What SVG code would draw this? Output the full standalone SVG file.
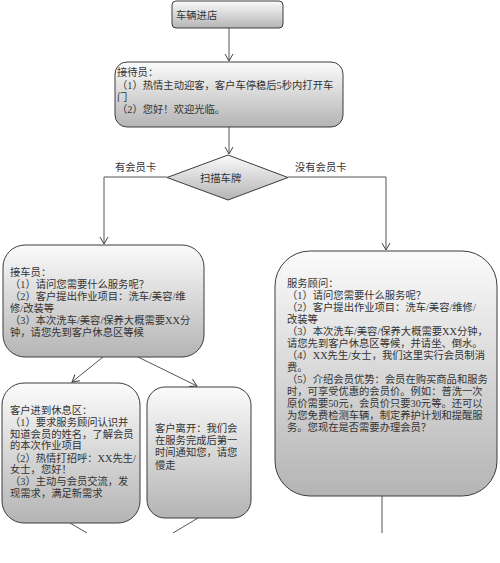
<svg xmlns="http://www.w3.org/2000/svg" width="500" height="563" viewBox="0 0 500 563">
<style>
.box{fill:url(#g);stroke:#3c3c3c;stroke-width:1}
.t{font-family:"Liberation Serif","Noto Sans CJK SC",serif;font-size:10.3px;fill:#333}
.c{fill:none;stroke:#555;stroke-width:1}
</style>
<defs>
<linearGradient id="g" x1="0" y1="0" x2="0" y2="1">
<stop offset="0" stop-color="#fbfbfb"/>
<stop offset="1" stop-color="#b4b4b4"/>
</linearGradient>
<marker id="a" markerWidth="10" markerHeight="10" refX="8" refY="5" orient="auto" markerUnits="userSpaceOnUse">
<path d="M1,1 L8,5 L1,9" fill="none" stroke="#444" stroke-width="1"/>
</marker>
</defs>
<rect width="500" height="563" fill="#fff"/>
<g id="connectors">
<path class="c" d="M229,28 V61" marker-end="url(#a)"/>
<path class="c" d="M229,127 V154" marker-end="url(#a)"/>
<path class="c" d="M167,177 H104 V244" marker-end="url(#a)"/>
<path class="c" d="M288,177 H386 V250" marker-end="url(#a)"/>
<path class="c" d="M103,357 L72,382" marker-end="url(#a)"/>
<path class="c" d="M138,357 L197,386" marker-end="url(#a)"/>
<path class="c" d="M70,523 L87,533"/>
<path class="c" d="M198,518 L173,533"/>
<path class="c" d="M382,496 V533"/>
<text class="t" x="115" y="171">有会员卡</text>
<text class="t" x="295" y="171">没有会员卡</text>
</g>
<g id="n1">
<rect class="box" x="172" y="1" width="111" height="27" rx="4"/>
<text class="t" x="176" y="19">车辆进店</text>
</g>
<g id="n2">
<rect class="box" x="115" y="62" width="228" height="65" rx="12"/>
<text class="t" x="117" y="76">接待员：</text>
<text class="t" x="117" y="89">（1）热情主动迎客，客户车停稳后5秒内打开车</text>
<text class="t" x="117" y="101">门</text>
<text class="t" x="117" y="113">（2）您好！欢迎光临。</text>
</g>
<g id="n3">
<polygon class="box" points="228,155 288,177.5 228,200 167,177.5"/>
<text class="t" x="200" y="182">扫描车牌</text>
</g>
<g id="n4">
<rect class="box" x="3" y="245" width="201" height="112" rx="22"/>
<text class="t" x="10" y="276">接车员：</text>
<text class="t" x="10" y="288">（1）请问您需要什么服务呢？</text>
<text class="t" x="10" y="300">（2）客户提出作业项目：洗车/美容/维</text>
<text class="t" x="10" y="312">修/改装等</text>
<text class="t" x="10" y="324">（3）本次洗车/美容/保养大概需要XX分</text>
<text class="t" x="10" y="336">钟，请您先到客户休息区等候</text>
</g>
<g id="n5">
<rect class="box" x="2" y="383" width="138" height="140" rx="22"/>
<text class="t" x="10" y="414">客户进到休息区：</text>
<text class="t" x="10" y="426">（1）要求服务顾问认识并</text>
<text class="t" x="10" y="438">知道会员的姓名，了解会员</text>
<text class="t" x="10" y="449">的本次作业项目</text>
<text class="t" x="10" y="462">（2）热情打招呼：XX先生/</text>
<text class="t" x="10" y="473">女士，您好！</text>
<text class="t" x="10" y="485">（3）主动与会员交流，发</text>
<text class="t" x="10" y="497">现需求，满足新需求</text>
</g>
<g id="n6">
<rect class="box" x="147" y="387" width="104" height="131" rx="18"/>
<text class="t" x="155" y="432">客户离开：我们会</text>
<text class="t" x="155" y="444">在服务完成后第一</text>
<text class="t" x="155" y="456">时间通知您，请您</text>
<text class="t" x="155" y="469">慢走</text>
</g>
<g id="n7">
<rect class="box" x="275" y="251" width="222" height="245" rx="35"/>
<text class="t" x="287" y="287">服务顾问：</text>
<text class="t" x="287" y="299">（1）请问您需要什么服务呢？</text>
<text class="t" x="287" y="311">（2）客户提出作业项目：洗车/美容/维修/</text>
<text class="t" x="287" y="323">改装等</text>
<text class="t" x="287" y="335">（3）本次洗车/美容/保养大概需要XX分钟，</text>
<text class="t" x="287" y="347">请您先到客户休息区等候，并请坐、倒水。</text>
<text class="t" x="287" y="359">（4）XX先生/女士，我们这里实行会员制消</text>
<text class="t" x="287" y="371">费。</text>
<text class="t" x="287" y="383">（5）介绍会员优势：会员在购买商品和服务</text>
<text class="t" x="287" y="395">时，可享受优惠的会员价。例如：普洗一次</text>
<text class="t" x="287" y="407">原价需要50元，会员价只要30元等。还可以</text>
<text class="t" x="287" y="419">为您免费检测车辆，制定养护计划和提醒服</text>
<text class="t" x="287" y="431">务。您现在是否需要办理会员？</text>
</g>
</svg>
